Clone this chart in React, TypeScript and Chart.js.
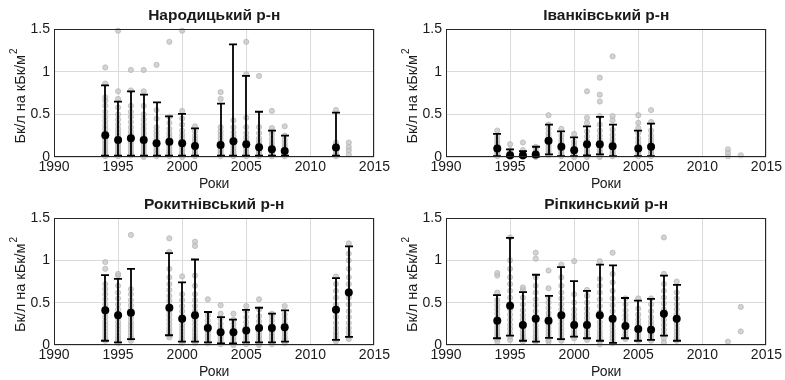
import React, { useEffect, useRef } from "react";
import { Chart, registerables } from "chart.js";

Chart.register(...registerables);

const FONT = '"Liberation Sans", Arial, Helvetica, sans-serif';
const TEXT = "#1a1a1a";
const GRID = "#dadada";

const xTicks = [1990, 1995, 2000, 2005, 2010, 2015];
const yTicks = [0, 0.5, 1, 1.5];
const xTitle = "Роки";
const yTitle = "Бк/л на кБк/м";
const ySup = "2";

// ---- Народицький р-н ----
const title1 = "Народицький р-н";
const years1 = [1994, 1995, 1996, 1997, 1998, 1999, 2000, 2001, 2003, 2004, 2005, 2006, 2007, 2008, 2012];
const means1 = [0.255, 0.2, 0.22, 0.2, 0.16, 0.18, 0.16, 0.13, 0.14, 0.185, 0.15, 0.115, 0.09, 0.07, 0.11];
const lo1 = [0.015, 0.015, 0.015, 0.015, 0.015, 0.015, 0.015, 0.015, 0.015, 0.015, 0.015, 0.015, 0.015, 0.015, 0.015];
const hi1 = [0.84, 0.65, 0.77, 0.73, 0.64, 0.475, 0.505, 0.335, 0.625, 1.32, 0.95, 0.53, 0.31, 0.25, 0.52];
const sampleYears1 = [1994, 1995, 1996, 1997, 1998, 1999, 2000, 2001, 2003, 2004, 2005, 2006, 2007, 2008, 2012, 2013];
const samples1 = [
  [0.01, 0.03, 0.05, 0.08, 0.1, 0.13, 0.16, 0.19, 0.22, 0.25, 0.29, 0.33, 0.37, 0.42, 0.47, 0.53, 0.6, 0.66, 0.7, 0.86, 1.05],
  [0.01, 0.03, 0.05, 0.07, 0.1, 0.12, 0.15, 0.18, 0.21, 0.25, 0.29, 0.33, 0.38, 0.44, 0.5, 0.58, 0.68, 0.77, 1.48],
  [0.02, 0.04, 0.06, 0.09, 0.12, 0.15, 0.18, 0.22, 0.26, 0.3, 0.35, 0.41, 0.47, 0.53, 0.6, 0.78, 1.02],
  [0, 0.02, 0.04, 0.07, 0.1, 0.13, 0.16, 0.2, 0.24, 0.28, 0.33, 0.38, 0.44, 0.5, 0.6, 0.77, 1.02],
  [0.01, 0.03, 0.05, 0.07, 0.09, 0.12, 0.15, 0.18, 0.22, 0.26, 0.3, 0.35, 0.45, 0.55, 1.08],
  [0.01, 0.03, 0.05, 0.08, 0.11, 0.14, 0.17, 0.2, 0.24, 0.28, 0.33, 0.4, 0.47, 1.35],
  [0, 0.02, 0.04, 0.06, 0.09, 0.12, 0.15, 0.18, 0.22, 0.26, 0.31, 0.38, 0.45, 0.54, 1.48],
  [0.01, 0.03, 0.05, 0.07, 0.1, 0.12, 0.15, 0.18, 0.21, 0.25, 0.3, 0.36],
  [0.01, 0.03, 0.05, 0.07, 0.09, 0.12, 0.15, 0.18, 0.22, 0.26, 0.3, 0.35, 0.68, 0.76],
  [0.01, 0.03, 0.05, 0.07, 0.1, 0.13, 0.16, 0.2, 0.24, 0.29, 0.35, 0.43],
  [0.01, 0.03, 0.05, 0.07, 0.1, 0.12, 0.15, 0.19, 0.23, 0.28, 0.35, 0.46, 0.97, 1.35],
  [0.01, 0.03, 0.05, 0.07, 0.09, 0.12, 0.15, 0.18, 0.22, 0.28, 0.35, 0.95],
  [0.01, 0.03, 0.05, 0.07, 0.09, 0.11, 0.14, 0.17, 0.21, 0.26, 0.3, 0.34, 0.54],
  [0.01, 0.03, 0.04, 0.06, 0.08, 0.1, 0.13, 0.16, 0.2, 0.25, 0.36],
  [0.01, 0.03, 0.06, 0.1, 0.14, 0.17, 0.55],
  [0.03, 0.08, 0.12, 0.17],
];

// ---- Іванківський р-н ----
const title2 = "Іванківський р-н";
const years2 = [1994, 1995, 1996, 1997, 1998, 1999, 2000, 2001, 2002, 2003, 2005, 2006];
const means2 = [0.1, 0.02, 0.02, 0.03, 0.19, 0.12, 0.08, 0.15, 0.15, 0.125, 0.1, 0.12];
const lo2 = [0.01, 0.005, 0.005, 0.005, 0.03, 0.01, 0.01, 0.02, 0.03, 0.01, 0.01, 0.01];
const hi2 = [0.27, 0.09, 0.07, 0.12, 0.38, 0.3, 0.23, 0.36, 0.47, 0.38, 0.31, 0.39];
const sampleYears2 = [1994, 1995, 1996, 1997, 1998, 1999, 2000, 2001, 2002, 2003, 2005, 2006, 2012, 2013];
const samples2 = [
  [0.01, 0.03, 0.05, 0.07, 0.09, 0.11, 0.14, 0.17, 0.2, 0.24, 0.31],
  [0, 0.01, 0.02, 0.03, 0.05, 0.08, 0.15],
  [0, 0.01, 0.02, 0.03, 0.05, 0.08, 0.17],
  [0, 0.01, 0.02, 0.04, 0.06, 0.09, 0.12],
  [0.02, 0.04, 0.07, 0.1, 0.13, 0.16, 0.2, 0.24, 0.28, 0.33, 0.38, 0.49],
  [0.01, 0.03, 0.05, 0.07, 0.1, 0.13, 0.16, 0.2, 0.25, 0.33],
  [0, 0.02, 0.04, 0.06, 0.08, 0.11, 0.14, 0.18, 0.27],
  [0, 0.02, 0.04, 0.06, 0.09, 0.12, 0.15, 0.19, 0.24, 0.3, 0.4, 0.46, 0.77],
  [0, 0.02, 0.04, 0.06, 0.09, 0.12, 0.16, 0.2, 0.25, 0.31, 0.38, 0.48, 0.65, 0.73, 0.93],
  [0.01, 0.03, 0.05, 0.07, 0.1, 0.13, 0.17, 0.21, 0.26, 0.32, 0.43, 0.48, 1.18],
  [0.01, 0.03, 0.05, 0.07, 0.1, 0.13, 0.17, 0.22, 0.28, 0.34, 0.4, 0.49],
  [0.01, 0.03, 0.05, 0.07, 0.1, 0.13, 0.16, 0.2, 0.25, 0.31, 0.41, 0.55],
  [0.01, 0.05, 0.09],
  [0.02],
];

// ---- Рокитнівський р-н ----
const title3 = "Рокитнівський р-н";
const years3 = [1994, 1995, 1996, 1999, 2000, 2001, 2002, 2003, 2004, 2005, 2006, 2007, 2008, 2012, 2013];
const means3 = [0.41, 0.35, 0.38, 0.44, 0.31, 0.35, 0.2, 0.15, 0.15, 0.17, 0.2, 0.2, 0.21, 0.415, 0.62];
const lo3 = [0.05, 0.03, 0.07, 0.115, 0.04, 0.04, 0.03, 0.02, 0.02, 0.03, 0.03, 0.03, 0.04, 0.06, 0.095];
const hi3 = [0.825, 0.78, 0.9, 1.085, 0.74, 1.01, 0.39, 0.33, 0.3, 0.415, 0.44, 0.37, 0.41, 0.79, 1.165];
const sampleYears3 = years3;
const samples3 = [
  [0.05, 0.08, 0.12, 0.16, 0.2, 0.24, 0.28, 0.33, 0.38, 0.43, 0.48, 0.54, 0.6, 0.66, 0.72, 0.9, 0.98],
  [0.02, 0.05, 0.08, 0.11, 0.15, 0.19, 0.23, 0.27, 0.32, 0.37, 0.42, 0.48, 0.55, 0.62, 0.7, 0.82, 0.84],
  [0.05, 0.08, 0.11, 0.15, 0.19, 0.23, 0.27, 0.32, 0.37, 0.42, 0.47, 0.53, 0.6, 0.66, 1.3],
  [0.09, 0.12, 0.16, 0.2, 0.25, 0.3, 0.35, 0.4, 0.46, 0.52, 0.58, 0.65, 0.72, 0.8, 0.9, 1.1, 1.26],
  [0.02, 0.05, 0.08, 0.12, 0.16, 0.2, 0.24, 0.29, 0.34, 0.4, 0.46, 0.53, 0.6, 0.81],
  [0.02, 0.05, 0.08, 0.11, 0.15, 0.19, 0.24, 0.29, 0.34, 0.4, 0.46, 0.53, 0.6, 0.7, 0.82, 1.17, 1.22],
  [0.02, 0.04, 0.07, 0.1, 0.13, 0.16, 0.2, 0.24, 0.29, 0.35, 0.54],
  [0.01, 0.03, 0.05, 0.08, 0.1, 0.13, 0.16, 0.2, 0.25, 0.31, 0.37, 0.47],
  [0, 0.02, 0.04, 0.07, 0.1, 0.13, 0.16, 0.2, 0.25, 0.3, 0.37],
  [0.01, 0.03, 0.06, 0.09, 0.12, 0.15, 0.18, 0.22, 0.27, 0.33, 0.4, 0.46],
  [0, 0.02, 0.05, 0.08, 0.11, 0.15, 0.19, 0.23, 0.28, 0.34, 0.42, 0.54],
  [0.01, 0.04, 0.07, 0.1, 0.13, 0.16, 0.2, 0.24, 0.29, 0.34, 0.37],
  [0.02, 0.04, 0.07, 0.1, 0.14, 0.18, 0.22, 0.26, 0.31, 0.36, 0.46],
  [0.04, 0.07, 0.11, 0.15, 0.2, 0.26, 0.33, 0.4, 0.48, 0.56, 0.64, 0.72, 0.81],
  [0.07, 0.1, 0.15, 0.2, 0.26, 0.33, 0.4, 0.48, 0.56, 0.64, 0.72, 0.8, 0.9, 1.0, 1.08, 1.2],
];

// ---- Ріпкинський р-н ----
const title4 = "Ріпкинський р-н";
const years4 = [1994, 1995, 1996, 1997, 1998, 1999, 2000, 2001, 2002, 2003, 2004, 2005, 2006, 2007, 2008];
const means4 = [0.285, 0.465, 0.235, 0.31, 0.285, 0.35, 0.235, 0.235, 0.35, 0.31, 0.225, 0.19, 0.18, 0.37, 0.31];
const lo4 = [0.08, 0.11, 0.05, 0.04, 0.085, 0.07, 0.1, 0.08, 0.05, 0.025, 0.08, 0.05, 0.06, 0.11, 0.05];
const hi4 = [0.59, 1.265, 0.625, 0.83, 0.58, 0.92, 0.755, 0.64, 0.95, 0.94, 0.555, 0.525, 0.545, 0.82, 0.71];
const sampleYears4 = [1994, 1995, 1996, 1997, 1998, 1999, 2000, 2001, 2002, 2003, 2004, 2005, 2006, 2007, 2008, 2012, 2013];
const samples4 = [
  [0.04, 0.07, 0.1, 0.13, 0.16, 0.2, 0.24, 0.28, 0.32, 0.37, 0.42, 0.47, 0.53, 0.62, 0.82, 0.85],
  [0.06, 0.1, 0.14, 0.19, 0.24, 0.3, 0.36, 0.42, 0.49, 0.56, 0.64, 0.72, 0.8, 0.9, 1.0, 1.27],
  [0.04, 0.07, 0.1, 0.13, 0.17, 0.21, 0.25, 0.3, 0.35, 0.41, 0.48, 0.56, 0.65, 0.68],
  [0.04, 0.07, 0.1, 0.14, 0.18, 0.23, 0.28, 0.34, 0.4, 0.47, 0.54, 0.62, 0.7, 0.8, 1.02, 1.09],
  [0.04, 0.06, 0.09, 0.12, 0.16, 0.2, 0.24, 0.28, 0.33, 0.38, 0.44, 0.5, 0.56, 0.67, 0.88],
  [0.05, 0.08, 0.12, 0.16, 0.2, 0.25, 0.3, 0.36, 0.42, 0.48, 0.55, 0.62, 0.7, 0.8, 0.95],
  [0.08, 0.11, 0.14, 0.18, 0.22, 0.26, 0.31, 0.36, 0.42, 0.5, 0.6, 0.99],
  [0.06, 0.09, 0.12, 0.15, 0.19, 0.23, 0.27, 0.32, 0.37, 0.43, 0.5, 0.58, 0.65],
  [0.01, 0.05, 0.09, 0.13, 0.17, 0.22, 0.27, 0.33, 0.39, 0.46, 0.54, 0.62, 0.7, 0.78, 0.99],
  [0.02, 0.05, 0.09, 0.13, 0.17, 0.22, 0.27, 0.33, 0.4, 0.47, 0.55, 0.64, 0.74, 0.84, 1.09],
  [0.07, 0.1, 0.13, 0.17, 0.21, 0.25, 0.3, 0.35, 0.41, 0.48, 0.55],
  [0.05, 0.08, 0.11, 0.14, 0.17, 0.21, 0.25, 0.3, 0.36, 0.43, 0.55],
  [0.05, 0.08, 0.11, 0.14, 0.17, 0.2, 0.24, 0.28, 0.33, 0.4, 0.48, 0.55],
  [0.03, 0.08, 0.13, 0.18, 0.24, 0.3, 0.36, 0.42, 0.49, 0.56, 0.64, 0.72, 0.84, 1.27],
  [0.05, 0.08, 0.12, 0.16, 0.2, 0.25, 0.3, 0.36, 0.42, 0.48, 0.55, 0.62, 0.75],
  [0.04],
  [0.16, 0.45],
];

type PanelData = {
  title: string;
  years: number[];
  means: number[];
  lo: number[];
  hi: number[];
  sampleYears: number[];
  samples: number[][];
};

const panels: PanelData[] = [
  { title: title1, years: years1, means: means1, lo: lo1, hi: hi1, sampleYears: sampleYears1, samples: samples1 },
  { title: title2, years: years2, means: means2, lo: lo2, hi: hi2, sampleYears: sampleYears2, samples: samples2 },
  { title: title3, years: years3, means: means3, lo: lo3, hi: hi3, sampleYears: sampleYears3, samples: samples3 },
  { title: title4, years: years4, means: means4, lo: lo4, hi: hi4, sampleYears: sampleYears4, samples: samples4 },
];

const PANEL_W = 392;
const PANEL_H = 190;

// Whiskers (mean ± spread) drawn just before the black mean markers
const errorBarPlugin = {
  id: "errorBars",
  beforeDatasetDraw(chart: any, args: any, opts: any) {
    if (args.index !== 0) return;
    const { ctx } = chart;
    const xs = chart.scales.x;
    const ys = chart.scales.y;
    ctx.save();
    ctx.strokeStyle = "#000";
    ctx.lineWidth = 1.8;
    const cap = 4;
    opts.years.forEach((yr: number, i: number) => {
      const x = Math.round(xs.getPixelForValue(yr));
      const y1 = ys.getPixelForValue(opts.lo[i]);
      const y2 = ys.getPixelForValue(opts.hi[i]);
      ctx.beginPath();
      ctx.moveTo(x, y1);
      ctx.lineTo(x, y2);
      ctx.moveTo(x - cap, y1);
      ctx.lineTo(x + cap, y1);
      ctx.moveTo(x - cap, y2);
      ctx.lineTo(x + cap, y2);
      ctx.stroke();
    });
    ctx.restore();
  },
};

// Axes box, panel title and axis titles
const framePlugin = {
  id: "frame",
  afterDraw(chart: any, _args: any, opts: any) {
    const { ctx, chartArea: a } = chart;
    ctx.save();
    ctx.strokeStyle = "#262626";
    ctx.lineWidth = 1;
    const l = Math.round(a.left) + 0.5;
    const t = Math.round(a.top) + 0.5;
    const r = Math.round(a.right) - 0.5;
    const b = Math.round(a.bottom) - 0.5;
    ctx.strokeRect(l, t, r - l, b - t);

    const cx = (a.left + a.right) / 2;
    ctx.fillStyle = TEXT;
    ctx.textAlign = "center";
    ctx.textBaseline = "middle";
    ctx.font = `bold 15.5px ${FONT}`;
    ctx.fillText(opts.title, cx, a.top - 13);

    ctx.font = `14px ${FONT}`;
    ctx.fillText(xTitle, cx, a.bottom + 27);

    // rotated y title with a raised exponent
    ctx.font = `14.5px ${FONT}`;
    const mainW = ctx.measureText(yTitle).width;
    ctx.font = `10px ${FONT}`;
    const supW = ctx.measureText(ySup).width;
    const total = mainW + supW + 1;
    ctx.translate(21, (a.top + a.bottom) / 2 + 3);
    ctx.rotate(-Math.PI / 2);
    ctx.textAlign = "left";
    ctx.font = `14.5px ${FONT}`;
    ctx.fillText(yTitle, -total / 2, 0);
    ctx.font = `10px ${FONT}`;
    ctx.fillText(ySup, -total / 2 + mainW + 1, -7);
    ctx.restore();
  },
};

function Panel({ data, left, top }: { data: PanelData; left: number; top: number }) {
  const ref = useRef<HTMLCanvasElement | null>(null);

  useEffect(() => {
    if (!ref.current) return;
    const isTop = top === 0;
    const padTop = isTop ? 29 : 28;
    const xAxisH = isTop ? 33 : 35;

    const points: { x: number; y: number }[] = [];
    data.sampleYears.forEach((yr, i) => {
      data.samples[i].forEach((v) => points.push({ x: yr, y: v }));
    });

    const chart = new Chart(ref.current, {
      type: "scatter",
      data: {
        datasets: [
          {
            label: "mean",
            data: data.years.map((yr, i) => ({ x: yr, y: data.means[i] })),
            pointRadius: 4,
            pointHoverRadius: 4,
            backgroundColor: "#000",
            borderColor: "#000",
            borderWidth: 0,
            clip: false,
          },
          {
            label: "samples",
            data: points,
            pointRadius: 2.6,
            pointHoverRadius: 2.6,
            backgroundColor: "rgba(196,196,196,0.75)",
            borderColor: "rgba(180,180,180,0.9)",
            borderWidth: 0.8,
            clip: false,
          },
        ],
      },
      options: {
        responsive: false,
        animation: false,
        events: [],
        layout: { padding: { top: padTop, right: 16, left: 0, bottom: 0 } },
        plugins: {
          legend: { display: false },
          title: { display: false },
          tooltip: { enabled: false },
          errorBars: { years: data.years, lo: data.lo, hi: data.hi },
          frame: { title: data.title },
        } as any,
        scales: {
          x: {
            type: "linear",
            min: xTicks[0],
            max: xTicks[xTicks.length - 1],
            afterBuildTicks: (s: any) => {
              s.ticks = xTicks.map((v) => ({ value: v }));
            },
            afterFit: (s: any) => {
              s.height = xAxisH;
            },
            ticks: {
              callback: (v: any) => String(v),
              font: { family: FONT, size: 14 },
              color: TEXT,
              padding: 2,
              maxRotation: 0,
              autoSkip: false,
            },
            grid: { color: GRID, lineWidth: 1, drawTicks: false },
            border: { display: false },
          },
          y: {
            type: "linear",
            min: yTicks[0],
            max: yTicks[yTicks.length - 1],
            afterBuildTicks: (s: any) => {
              s.ticks = yTicks.map((v) => ({ value: v }));
            },
            afterFit: (s: any) => {
              s.width = 54;
            },
            ticks: {
              callback: (v: any) => String(v),
              font: { family: FONT, size: 14 },
              color: TEXT,
              padding: 4,
            },
            grid: { color: GRID, lineWidth: 1, drawTicks: false },
            border: { display: false },
          },
        },
      },
      plugins: [errorBarPlugin, framePlugin],
    });
    return () => chart.destroy();
  }, [data, top]);

  return (
    <canvas
      ref={ref}
      width={PANEL_W}
      height={PANEL_H}
      style={{ position: "absolute", left, top, width: PANEL_W, height: PANEL_H }}
    />
  );
}

export default function App() {
  return (
    <div
      style={{
        position: "fixed",
        left: 0,
        top: 0,
        width: 785,
        height: 380,
        background: "#fff",
        overflow: "hidden",
      }}
    >
      <Panel data={panels[0]} left={0} top={0} />
      <Panel data={panels[1]} left={392} top={0} />
      <Panel data={panels[2]} left={0} top={190} />
      <Panel data={panels[3]} left={392} top={190} />
    </div>
  );
}
